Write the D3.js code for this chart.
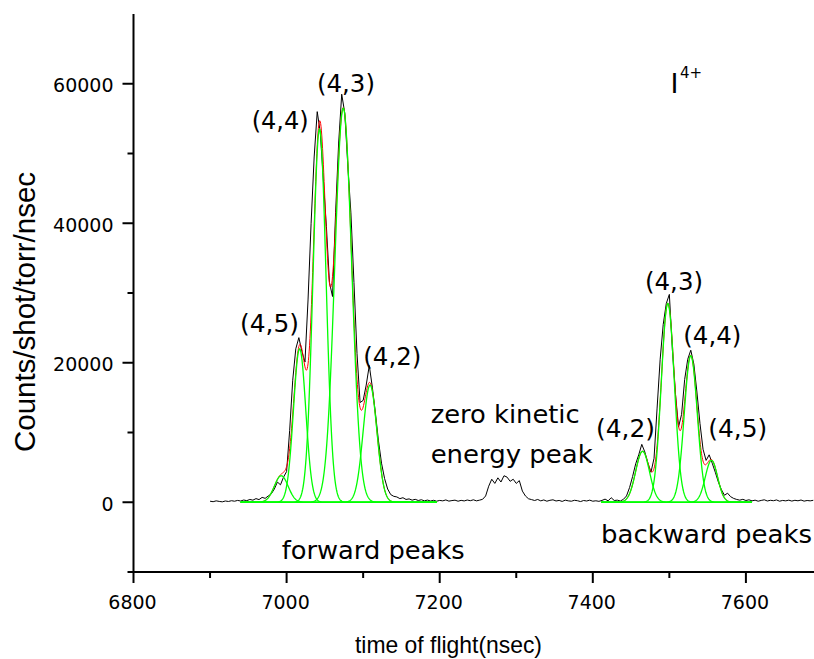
<!DOCTYPE html>
<html>
<head>
<meta charset="UTF-8">
<title>I4+ time of flight</title>
<script src="https://cdn.jsdelivr.net/npm/d3@7"></script>
<style>
body { margin: 0; background: #fff; }
text { font-family: "DejaVu Sans", sans-serif; fill: #000; }
.title { font-family: "Liberation Sans", Arial, sans-serif; }
.data { fill: none; stroke: #000; stroke-width: 1px; }
.fit { fill: none; stroke: #ff0000; stroke-width: 1px; }
.comp { fill: none; stroke: #00ff00; stroke-width: 1.3px; }
.axis-line { stroke: #000; stroke-width: 2px; }
</style>
</head>
<body>
<svg id="chart" width="814" height="659"></svg>
<script>
// measured spectrum, one value every 4 ns starting at 6900 ns
var tofStart = 6900, tofStep = 4;
var counts = [
  150, 80, 200, 120, 60, 180, 110, 220, 150, 260,
  180, 320, 230, 400, 300, 520, 380, 700, 560, 900,
  1200, 1900, 2900, 2500, 3600, 4400, 10300, 17500, 22000, 23600,
  21600, 20100, 29000, 40000, 49500, 56000, 53000, 46200, 39500, 31500,
  29500, 41500, 51500, 58500, 55800, 48200, 41500, 31500, 21300, 14300,
  14600, 16800, 19600, 16500, 12800, 8800, 5600, 3400, 1900, 1100,
  850, 760, 520, 650, 400, 480, 300, 420, 250, 360,
  200, 310, 180, 280, 150, 260, 200, 330, 160, 240,
  300, 150, 270, 190, 320, 220, 350, 200, 300, 420,
  900, 2300, 3300, 2700, 3500, 2900, 3800, 3600, 3000, 3300,
  2700, 3100, 1600, 900, 500, 380, 250, 400, 200, 330,
  150, 280, 350, 180, 260, 120, 300, 200, 150, 280,
  220, 100, 250, 180, 300, 150, 210, 130, 260, 450,
  200, 650, 250, 300, 180, 420, 900, 2100, 3700, 5500,
  6800, 8300, 7200, 5600, 4300, 6300, 13500, 20500, 25500, 28500,
  29800, 21800, 15500, 10800, 12600, 17600, 20500, 21800, 19800, 15800,
  11300, 7600, 6000, 6800, 5600, 4300, 2900, 1800, 1000, 1300,
  800, 550, 400, 300, 420, 250, 350, 200, 300, 150,
  260, 350, 180, 280, 220, 330, 150, 260, 200, 300,
  170, 280, 210, 320, 160, 250, 200, 280
];

// gaussian fit components (centre ns, height, sigma ns)
var fwdRange = [6940, 7196];
var fwdCenter = [6993, 7017, 7043, 7074, 7109];
var fwdHeight = [3800, 22000, 53500, 56500, 16800];
var fwdSigma = [9, 8, 8.5, 11, 9];

var bwdRange = [7411, 7608];
var bwdCenter = [7465, 7498, 7528, 7555];
var bwdHeight = [7300, 28500, 21000, 6000];
var bwdSigma = [9, 8.5, 8.5, 8];

var xMajor = [6800, 7000, 7200, 7400, 7600];
var xMinor = [6900, 7100, 7300, 7500];
var yMajor = [0, 20000, 40000, 60000];
var yMinor = [-10000, 10000, 30000, 50000];

// annotations: text, tof, counts (left edge / baseline), width in px
var notes = [
  ["(4,4)", 6954.4, 53550, 57],
  ["(4,3)", 7039.7, 58750, 58],
  ["(4,5)", 6939.1, 24410, 59],
  ["(4,2)", 7100.2, 19680, 58],
  ["zero kinetic", 7188.2, 11320, 149],
  ["energy peak", 7188.2, 5580, 162],
  ["(4,2)", 7404.2, 9355, 59],
  ["(4,3)", 7468.2, 30360, 58],
  ["(4,4)", 7518.2, 22690, 58],
  ["(4,5)", 7550.9, 9355, 59],
  ["backward peaks", 7410.7, -5842, 211],
  ["forward peaks", 6993.6, -8136, 183]
];

var svg = d3.select("#chart");
var x = d3.scaleLinear().domain([6800, 7690]).range([133.5, 814.8]);
var y = d3.scaleLinear().domain([-10000, 70000]).range([572, 14]);

var line = d3.line()
  .x(function(d) { return x(d[0]); })
  .y(function(d) { return y(d[1]); });

function gauss(t, c, h, s) {
  return h * Math.exp(-(t - c) * (t - c) / (2 * s * s));
}

// black measured trace
var spectrum = counts.map(function(v, i) { return [tofStart + i * tofStep, v]; });
svg.append("path").attr("class", "data").attr("d", line(spectrum));

function drawFit(range, centers, heights, sigmas) {
  var ts = d3.range(range[0], range[1] + 0.5, 0.5);
  var total = ts.map(function(t) {
    var s = 0;
    centers.forEach(function(c, i) { s += gauss(t, c, heights[i], sigmas[i]); });
    return [t, s];
  });
  svg.append("path").attr("class", "fit").attr("d", line(total));
  centers.forEach(function(c, i) {
    var pts = ts.map(function(t) { return [t, gauss(t, c, heights[i], sigmas[i])]; });
    svg.append("path").attr("class", "comp").attr("d", line(pts));
  });
}
drawFit(fwdRange, fwdCenter, fwdHeight, fwdSigma);
drawFit(bwdRange, bwdCenter, bwdHeight, bwdSigma);

// axes
var gx = svg.append("g").attr("transform", "translate(0," + y(-10000) + ")");
gx.append("line").attr("class", "axis-line").attr("x1", 132.5).attr("x2", 814);
gx.selectAll(".maj").data(xMajor).enter().append("line").attr("class", "axis-line")
  .attr("x1", x).attr("x2", x).attr("y1", 0).attr("y2", 11);
gx.selectAll(".min").data(xMinor).enter().append("line").attr("class", "axis-line")
  .attr("x1", x).attr("x2", x).attr("y1", 0).attr("y2", 6);
gx.selectAll("text").data(xMajor).enter().append("text")
  .attr("x", function(d) { return x(d) - 1; }).attr("y", 36.5)
  .attr("text-anchor", "middle").style("font-size", "19px").text(String);

var gy = svg.append("g").attr("transform", "translate(" + x(6800) + ",0)");
gy.append("line").attr("class", "axis-line").attr("y1", 14).attr("y2", 573);
gy.selectAll(".maj").data(yMajor).enter().append("line").attr("class", "axis-line")
  .attr("y1", y).attr("y2", y).attr("x1", 0).attr("x2", -11);
gy.selectAll(".min").data(yMinor).enter().append("line").attr("class", "axis-line")
  .attr("y1", y).attr("y2", y).attr("x1", 0).attr("x2", -6);
gy.selectAll("text").data(yMajor).enter().append("text")
  .attr("x", -20).attr("y", function(d) { return y(d) + 8.5; })
  .attr("text-anchor", "end").style("font-size", "19px").text(String);

// axis titles
svg.append("text").attr("class", "title").attr("x", 355).attr("y", 652.5)
  .attr("textLength", 187).attr("lengthAdjust", "spacingAndGlyphs")
  .style("font-size", "24px").text("time of flight(nsec)");
svg.append("text").attr("class", "title").attr("transform", "translate(35,452) rotate(-90)")
  .attr("textLength", 280).attr("lengthAdjust", "spacingAndGlyphs")
  .style("font-size", "29.5px").text("Counts/shot/torr/nsec");

// peak labels
svg.selectAll(".note").data(notes).enter().append("text")
  .attr("x", function(d) { return x(d[1]); })
  .attr("y", function(d) { return y(d[2]); })
  .attr("textLength", function(d) { return d[3]; })
  .attr("lengthAdjust", "spacingAndGlyphs")
  .style("font-size", "24px")
  .text(function(d) { return d[0]; });

// ion label
var ion = svg.append("text").attr("x", 670.5).attr("y", 93.3).style("font-size", "27px");
ion.append("tspan").text("I");
ion.append("tspan").attr("x", 680).attr("y", 78.3).style("font-size", "15px").text("4+");
</script>
</body>
</html>
